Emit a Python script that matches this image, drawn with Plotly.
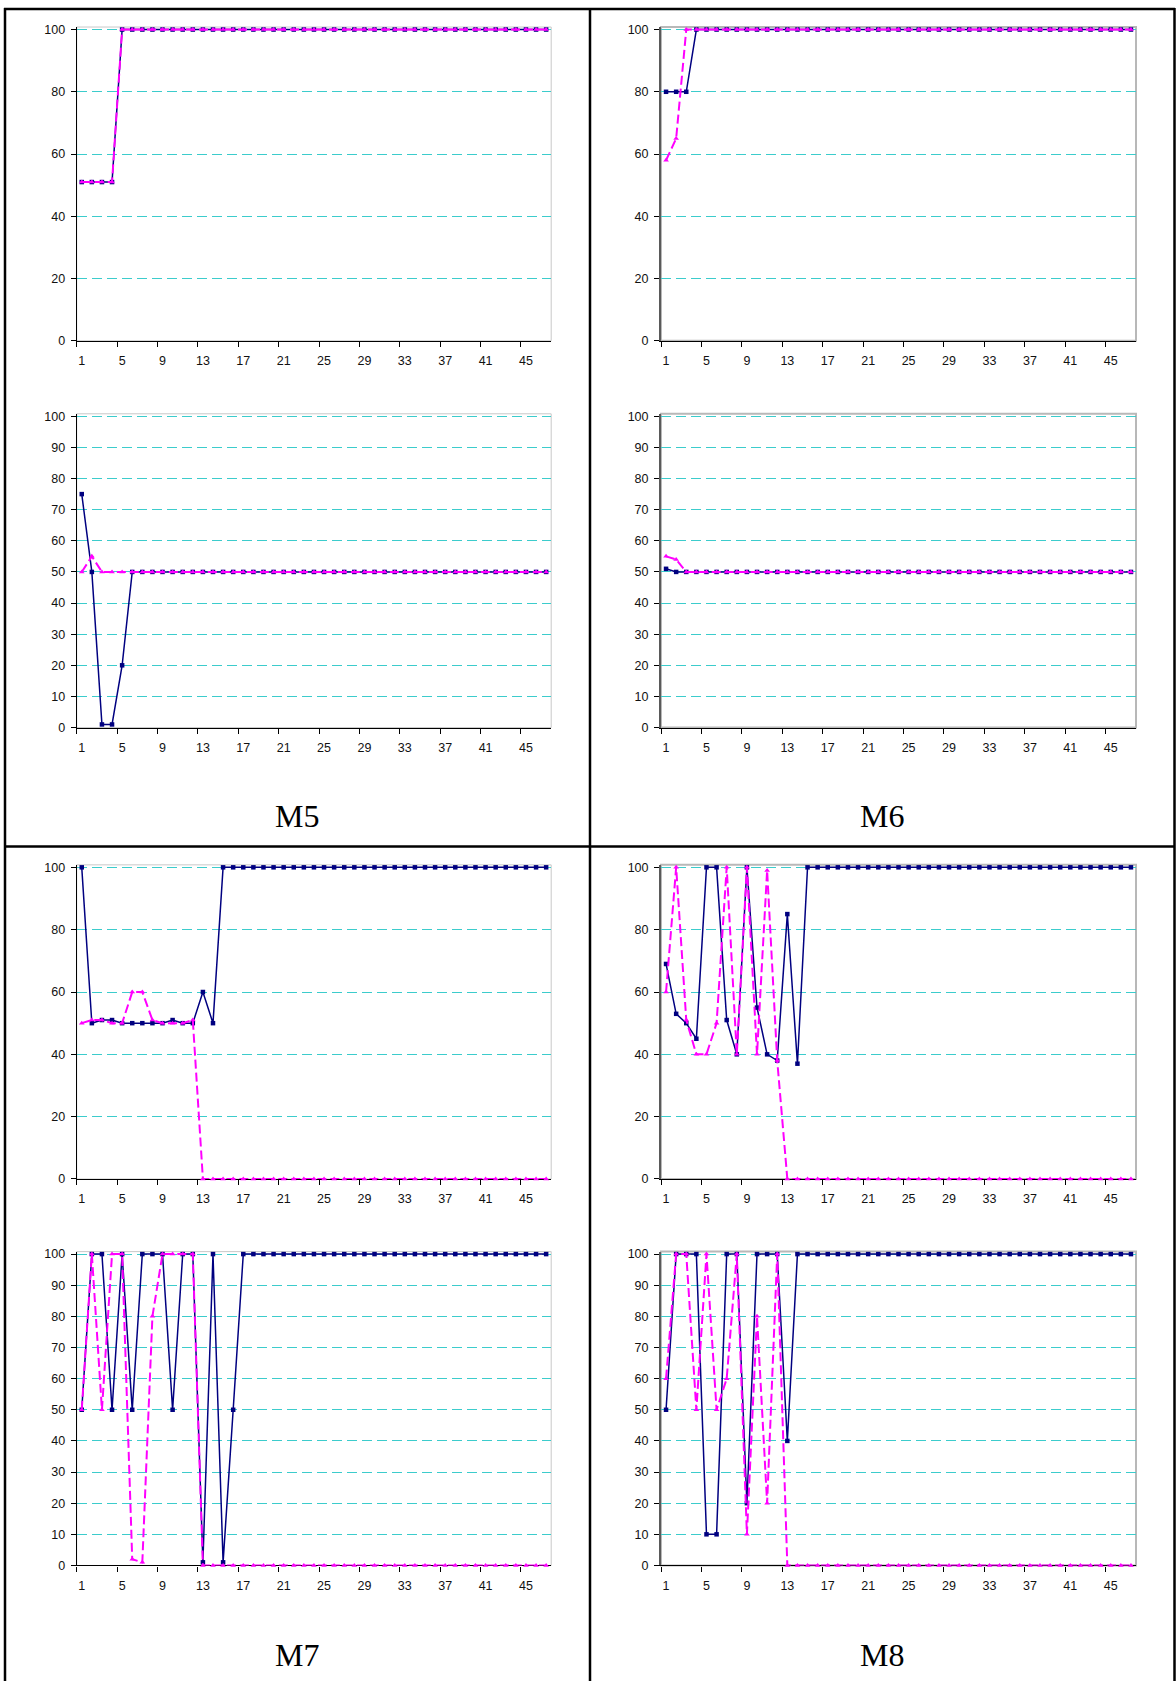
import plotly.graph_objects as go

W, H = 1176, 1688

# ---------------- data ----------------
x_vals = list(range(1, 48))
x_tick_labels = [1, 5, 9, 13, 17, 21, 25, 29, 33, 37, 41, 45]

m5_top_navy = [51, 51, 51, 51, 100, 100, 100, 100, 100, 100,
               100, 100, 100, 100, 100, 100, 100, 100, 100, 100,
               100, 100, 100, 100, 100, 100, 100, 100, 100, 100,
               100, 100, 100, 100, 100, 100, 100, 100, 100, 100,
               100, 100, 100, 100, 100, 100, 100]
m5_top_pink = [51, 51, 51, 51, 100, 100, 100, 100, 100, 100,
               100, 100, 100, 100, 100, 100, 100, 100, 100, 100,
               100, 100, 100, 100, 100, 100, 100, 100, 100, 100,
               100, 100, 100, 100, 100, 100, 100, 100, 100, 100,
               100, 100, 100, 100, 100, 100, 100]
m5_bot_navy = [75, 50, 1, 1, 20, 50, 50, 50, 50, 50,
               50, 50, 50, 50, 50, 50, 50, 50, 50, 50,
               50, 50, 50, 50, 50, 50, 50, 50, 50, 50,
               50, 50, 50, 50, 50, 50, 50, 50, 50, 50,
               50, 50, 50, 50, 50, 50, 50]
m5_bot_pink = [50, 55, 50, 50, 50, 50, 50, 50, 50, 50,
               50, 50, 50, 50, 50, 50, 50, 50, 50, 50,
               50, 50, 50, 50, 50, 50, 50, 50, 50, 50,
               50, 50, 50, 50, 50, 50, 50, 50, 50, 50,
               50, 50, 50, 50, 50, 50, 50]

m6_top_navy = [80, 80, 80, 100, 100, 100, 100, 100, 100, 100,
               100, 100, 100, 100, 100, 100, 100, 100, 100, 100,
               100, 100, 100, 100, 100, 100, 100, 100, 100, 100,
               100, 100, 100, 100, 100, 100, 100, 100, 100, 100,
               100, 100, 100, 100, 100, 100, 100]
m6_top_pink = [58, 65, 100, 100, 100, 100, 100, 100, 100, 100,
               100, 100, 100, 100, 100, 100, 100, 100, 100, 100,
               100, 100, 100, 100, 100, 100, 100, 100, 100, 100,
               100, 100, 100, 100, 100, 100, 100, 100, 100, 100,
               100, 100, 100, 100, 100, 100, 100]
m6_bot_navy = [51, 50, 50, 50, 50, 50, 50, 50, 50, 50,
               50, 50, 50, 50, 50, 50, 50, 50, 50, 50,
               50, 50, 50, 50, 50, 50, 50, 50, 50, 50,
               50, 50, 50, 50, 50, 50, 50, 50, 50, 50,
               50, 50, 50, 50, 50, 50, 50]
m6_bot_pink = [55, 54, 50, 50, 50, 50, 50, 50, 50, 50,
               50, 50, 50, 50, 50, 50, 50, 50, 50, 50,
               50, 50, 50, 50, 50, 50, 50, 50, 50, 50,
               50, 50, 50, 50, 50, 50, 50, 50, 50, 50,
               50, 50, 50, 50, 50, 50, 50]

m7_top_navy = [100, 50, 51, 51, 50, 50, 50, 50, 50, 51,
               50, 50, 60, 50, 100, 100, 100, 100, 100, 100,
               100, 100, 100, 100, 100, 100, 100, 100, 100, 100,
               100, 100, 100, 100, 100, 100, 100, 100, 100, 100,
               100, 100, 100, 100, 100, 100, 100]
m7_top_pink = [50, 51, 51, 50, 50, 60, 60, 51, 50, 50,
               50, 51, 0, 0, 0, 0, 0, 0, 0, 0,
               0, 0, 0, 0, 0, 0, 0, 0, 0, 0,
               0, 0, 0, 0, 0, 0, 0, 0, 0, 0,
               0, 0, 0, 0, 0, 0, 0]
m7_bot_navy = [50, 100, 100, 50, 100, 50, 100, 100, 100, 50,
               100, 100, 1, 100, 1, 50, 100, 100, 100, 100,
               100, 100, 100, 100, 100, 100, 100, 100, 100, 100,
               100, 100, 100, 100, 100, 100, 100, 100, 100, 100,
               100, 100, 100, 100, 100, 100, 100]
m7_bot_pink = [50, 100, 50, 100, 100, 2, 1, 80, 100, 100,
               100, 100, 0, 0, 0, 0, 0, 0, 0, 0,
               0, 0, 0, 0, 0, 0, 0, 0, 0, 0,
               0, 0, 0, 0, 0, 0, 0, 0, 0, 0,
               0, 0, 0, 0, 0, 0, 0]

m8_top_navy = [69, 53, 50, 45, 100, 100, 51, 40, 100, 55,
               40, 38, 85, 37, 100, 100, 100, 100, 100, 100,
               100, 100, 100, 100, 100, 100, 100, 100, 100, 100,
               100, 100, 100, 100, 100, 100, 100, 100, 100, 100,
               100, 100, 100, 100, 100, 100, 100]
m8_top_pink = [60, 100, 51, 40, 40, 50, 100, 40, 100, 40,
               99, 38, 0, 0, 0, 0, 0, 0, 0, 0,
               0, 0, 0, 0, 0, 0, 0, 0, 0, 0,
               0, 0, 0, 0, 0, 0, 0, 0, 0, 0,
               0, 0, 0, 0, 0, 0, 0]
m8_bot_navy = [50, 100, 100, 100, 10, 10, 100, 100, 20, 100,
               100, 100, 40, 100, 100, 100, 100, 100, 100, 100,
               100, 100, 100, 100, 100, 100, 100, 100, 100, 100,
               100, 100, 100, 100, 100, 100, 100, 100, 100, 100,
               100, 100, 100, 100, 100, 100, 100]
m8_bot_pink = [60, 100, 100, 50, 100, 50, 60, 100, 10, 80,
               20, 100, 0, 0, 0, 0, 0, 0, 0, 0,
               0, 0, 0, 0, 0, 0, 0, 0, 0, 0,
               0, 0, 0, 0, 0, 0, 0, 0, 0, 0,
               0, 0, 0, 0, 0, 0, 0]

panel_labels = ["M5", "M6", "M7", "M8"]
y_ticks_top = [0, 20, 40, 60, 80, 100]
y_ticks_bot = [0, 10, 20, 30, 40, 50, 60, 70, 80, 90, 100]

# ---------------- layout geometry (pixels) ----------------
col_x = {"L": (76.7, 551.2), "R": (661.0, 1136.0)}
row_y = {"At": (25.7, 339.0), "Ab": (415.0, 728.3),
         "Bt": (869.0, 1182.7), "Bb": (1258.3, 1571.7)}
Y_TOP = 100.8

panels = [
    ("L", "At", m5_top_navy, m5_top_pink, y_ticks_top),
    ("R", "At", m6_top_navy, m6_top_pink, y_ticks_top),
    ("L", "Ab", m5_bot_navy, m5_bot_pink, y_ticks_bot),
    ("R", "Ab", m6_bot_navy, m6_bot_pink, y_ticks_bot),
    ("L", "Bt", m7_top_navy, m7_top_pink, y_ticks_top),
    ("R", "Bt", m8_top_navy, m8_top_pink, y_ticks_top),
    ("L", "Bb", m7_bot_navy, m7_bot_pink, y_ticks_bot),
    ("R", "Bb", m8_bot_navy, m8_bot_pink, y_ticks_bot),
]

NAVY = "#000080"
PINK = "#FF00FF"
GRID = "#3CCCCC"
FONT = dict(family="Liberation Sans, Arial, sans-serif", size=12.5, color="#111111")

fig = go.Figure()
layout = dict(width=W, height=H, margin=dict(l=0, r=0, t=0, b=0, pad=0),
              paper_bgcolor="white", plot_bgcolor="white", showlegend=False,
              autosize=False, shapes=[], annotations=[])

for i, (col, row, navy, pink, yt) in enumerate(panels):
    n = i + 1
    xa = "x" if n == 1 else f"x{n}"
    ya = "y" if n == 1 else f"y{n}"
    x0p, x1p = col_x[col]
    y100, y0 = row_y[row]
    ytop = y100 - (Y_TOP - 100) / 100 * (y0 - y100)
    xdom = [x0p / W, x1p / W]
    ydom = [1 - y0 / H, 1 - ytop / H]
    right = col == "R"

    fig.add_trace(go.Scatter(
        x=x_vals, y=navy, xaxis=xa, yaxis=ya, mode="lines+markers",
        line=dict(color=NAVY, width=1.5),
        marker=dict(symbol="square", size=4.5, color=NAVY),
        cliponaxis=False, hoverinfo="skip"))
    fig.add_trace(go.Scatter(
        x=x_vals, y=pink, xaxis=xa, yaxis=ya, mode="lines+markers",
        line=dict(color=PINK, width=2, dash="9px,4px"),
        marker=dict(symbol="triangle-up", size=5, color=PINK),
        cliponaxis=False, hoverinfo="skip"))

    xkey = "xaxis" if n == 1 else f"xaxis{n}"
    ykey = "yaxis" if n == 1 else f"yaxis{n}"
    layout[xkey] = dict(
        domain=xdom, anchor=ya, range=[0.5, 47.5], fixedrange=True,
        showgrid=False, zeroline=False, showline=True,
        linecolor="#000000", linewidth=1.3, layer="below traces",
        tickmode="array", tickvals=x_tick_labels,
        ticktext=[str(v) for v in x_tick_labels],
        ticks="", ticklabelstandoff=8, tickfont=FONT,
        minor=dict(tickmode="array",
                   tickvals=[0.5 + 4 * k for k in range(12)],
                   ticks="outside", ticklen=5, tickwidth=1,
                   tickcolor="#000000", showgrid=False))
    layout[ykey] = dict(
        domain=ydom, anchor=xa, range=[0, Y_TOP], fixedrange=True,
        showgrid=True, gridcolor=GRID, gridwidth=1, griddash="10px,5px",
        zeroline=False, showline=True,
        linecolor="#5A5A5A" if right else "#000000",
        linewidth=2 if right else 1,
        layer="below traces",
        tickmode="array", tickvals=yt, ticktext=[str(v) for v in yt],
        ticks="outside", ticklen=5, tickwidth=1, tickcolor="#000000",
        ticklabelstandoff=3, tickfont=FONT)
    # light grey plot-area frame (top & right sides visible)
    layout["shapes"].append(dict(
        type="rect", xref=f"{xa} domain", yref=f"{ya} domain",
        x0=0, x1=1, y0=0, y1=1, layer="below",
        line=dict(color="#B8B8B8" if right else "#C8C8C8",
                  width=2 if right else 1)))

# table borders
def hline(ypx, x0px, x1px):
    return dict(type="line", xref="paper", yref="paper",
                x0=x0px / W, x1=x1px / W, y0=1 - ypx / H, y1=1 - ypx / H,
                line=dict(color="black", width=2.5), layer="above")

def vline(xpx, y0px, y1px):
    return dict(type="line", xref="paper", yref="paper",
                x0=xpx / W, x1=xpx / W, y0=1 - y0px / H, y1=1 - y1px / H,
                line=dict(color="black", width=2.5), layer="above")

layout["shapes"] += [
    hline(5, 4, 1175), hline(848, 4, 1175),
    vline(5, 4, H), vline(590, 4, H), vline(1174.5, 4, H),
]

label_pos = [(297, 817), (882, 817), (297, 1662), (882, 1662)]
for txt, (lx, ly) in zip(panel_labels, label_pos):
    layout["annotations"].append(dict(
        text=txt, x=lx / W, y=1 - ly / H, xref="paper", yref="paper",
        xanchor="center", yanchor="middle", showarrow=False,
        font=dict(family="Liberation Serif, Times New Roman, serif",
                  size=32, color="black")))

fig.update_layout(**layout)
fig.write_html("out.html", config={"displayModeBar": False})
